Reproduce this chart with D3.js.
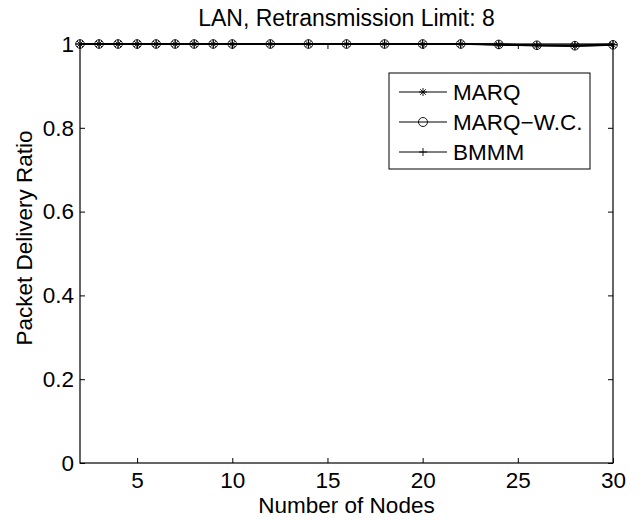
<!DOCTYPE html>
<html><head><meta charset="utf-8">
<script src="https://cdn.jsdelivr.net/npm/d3@7"></script>
<style>body{margin:0;background:#fff;} text{font-family:"Liberation Sans",Arial,sans-serif;fill:#000;}</style>
</head><body>
<svg id="c" width="643" height="520"></svg>
<script>
const nodes = [2,3,4,5,6,7,8,9,10,12,14,16,18,20,22,24,26,28,30];
const marq   = [1,1,1,1,1,1,1,1,1,1,1,1,1,1,1,0.998,0.996,0.995,0.998];
const marqWC = [1,1,1,1,1,1,1,1,1,1,1,1,1,1,1,0.999,0.997,0.996,0.998];
const bmmm   = [1,1,1,1,1,1,1,1,1,1,1,1,1,1,1,0.999,0.997,0.997,0.999];
const seriesNames = ["MARQ","MARQ\u2212W.C.","BMMM"];
const xTicks = [5,10,15,20,25,30];
const yTicks = [0,0.2,0.4,0.6,0.8,1];

const L=80, R=613, T=44, B=463;
const FS="22.5px";
const svg=d3.select("#c");
const x=d3.scaleLinear().domain([2,30]).range([L,R]);
const y=d3.scaleLinear().domain([0,1]).range([B,T]);

const gx=svg.append("g").attr("transform",`translate(0,${B})`)
  .call(d3.axisBottom(x).tickValues(xTicks).tickSizeInner(-5).tickSizeOuter(0).tickPadding(9).tickFormat(d3.format("d")));
const gxt=svg.append("g").attr("transform",`translate(0,${T})`)
  .call(d3.axisTop(x).tickValues(xTicks).tickSizeInner(-5).tickSizeOuter(0).tickFormat(""));
const gy=svg.append("g").attr("transform",`translate(${L},0)`)
  .call(d3.axisLeft(y).tickValues(yTicks).tickSizeInner(-5).tickSizeOuter(0).tickPadding(6).tickFormat(d=>d===0||d===1?d3.format("d")(d):d3.format(".1f")(d)));
const gyr=svg.append("g").attr("transform",`translate(${R},0)`)
  .call(d3.axisRight(y).tickValues(yTicks).tickSizeInner(-5).tickSizeOuter(0).tickFormat(""));
[gx,gxt,gy,gyr].forEach(g=>{
  g.selectAll("line").attr("stroke","#000");
  g.selectAll("text").style("font-size",FS).attr("fill","#000");
  g.select(".domain").remove();});
svg.append("rect").attr("x",L).attr("y",T).attr("width",R-L).attr("height",B-T)
  .attr("fill","none").attr("stroke","#000").attr("stroke-width",1.2);

function marker(g,type,cx,cy,s){
  if(type==="star"){
    const r=s;
    g.append("path").attr("d",`M${cx-r},${cy}H${cx+r}M${cx},${cy-r}V${cy+r}M${cx-r*0.7},${cy-r*0.7}L${cx+r*0.7},${cy+r*0.7}M${cx-r*0.7},${cy+r*0.7}L${cx+r*0.7},${cy-r*0.7}`)
     .attr("stroke","#000").attr("stroke-width",0.9).attr("fill","none");
  } else if(type==="circle"){
    g.append("circle").attr("cx",cx).attr("cy",cy).attr("r",s).attr("fill","none").attr("stroke","#000").attr("stroke-width",0.9);
  } else {
    g.append("path").attr("d",`M${cx-s},${cy}H${cx+s}M${cx},${cy-s}V${cy+s}`).attr("stroke","#000").attr("stroke-width",0.9);
  }
}
const all=[marq,marqWC,bmmm], types=["star","circle","plus"];
const line=d3.line().x((d,i)=>x(nodes[i])).y(d=>y(d));
all.forEach((vals,k)=>{
  const g=svg.append("g");
  g.append("path").datum(vals).attr("d",line).attr("fill","none").attr("stroke","#000").attr("stroke-width",1.6);
  vals.forEach((v,i)=>marker(g,types[k],x(nodes[i]),y(v),4.3));
});

const lg=svg.append("g");
lg.append("rect").attr("x",389).attr("y",73).attr("width",201).attr("height",96).attr("fill","#fff").attr("stroke","#000").attr("stroke-width",1);
[92,122,152].forEach((ly,k)=>{
  lg.append("line").attr("x1",399).attr("x2",447).attr("y1",ly).attr("y2",ly).attr("stroke","#000").attr("stroke-width",1);
  marker(lg,types[k],423,ly,k===1?4.5:4);
  lg.append("text").attr("x",453).attr("y",ly+8).style("font-size",FS).text(seriesNames[k]);
});

svg.append("text").attr("x",(L+R)/2).attr("y",26).attr("text-anchor","middle").style("font-size","23px").text("LAN, Retransmission Limit: 8");
svg.append("text").attr("x",(L+R)/2).attr("y",513).attr("text-anchor","middle").style("font-size",FS).text("Number of Nodes");
svg.append("text").attr("transform",`translate(32,238) rotate(-90)`).attr("text-anchor","middle").style("font-size",FS).text("Packet Delivery Ratio");
</script>
</body></html>
